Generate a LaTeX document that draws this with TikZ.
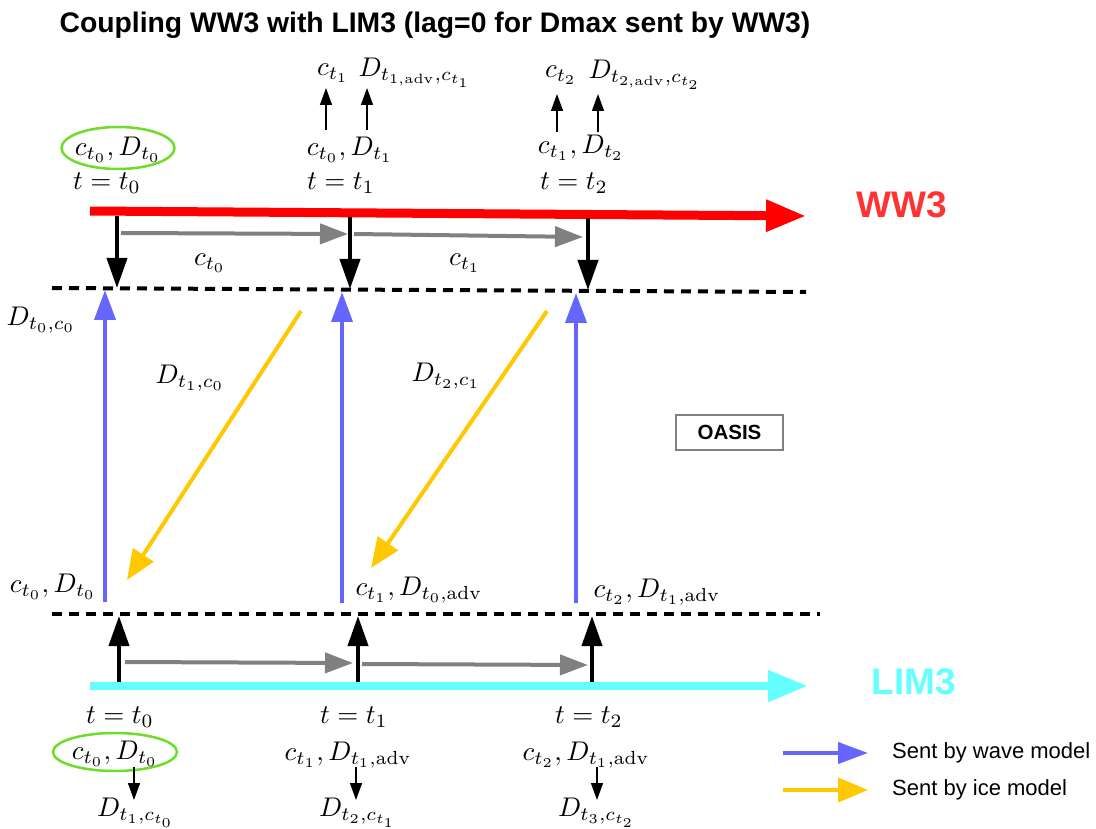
\documentclass[tikz,border=0pt]{standalone}
\usepackage{fontspec}
\newfontfamily\arial{Liberation Sans}
\usetikzlibrary{arrows.meta,shapes.geometric}
\definecolor{wwred}{RGB}{255,0,0}
\definecolor{wwtext}{RGB}{255,51,51}
\definecolor{limcyan}{RGB}{102,255,255}
\definecolor{wblue}{RGB}{102,102,255}
\definecolor{iyellow}{RGB}{255,200,0}
\definecolor{fgray}{RGB}{128,128,128}
\definecolor{egreen}{RGB}{110,220,40}
\tikzset{
  mtxt/.style={inner sep=0pt, scale=2.7},
  bigarrow/.style={line width=8pt, -{Triangle[length=40pt,width=30pt]}},
  blackarrow/.style={draw=black, line width=4pt, -{Triangle[length=30pt,width=20pt]}},
  grayarrow/.style={draw=fgray, line width=4pt, -{Triangle[length=28pt,width=20pt]}},
  bluearrow/.style={draw=wblue, line width=4pt, -{Triangle[length=30pt,width=21pt]}},
  yellowarrow/.style={draw=iyellow, line width=4pt, -{Triangle[length=30pt,width=24pt]}},
  smallarrow/.style={draw=black, line width=1.5pt, -{Triangle[length=17pt,width=12pt]}},
  dashline/.style={draw=black, line width=4pt, dash pattern=on 10pt off 7pt},
  greenell/.style={ellipse, draw=egreen, line width=2.5pt, inner sep=0pt},
}
\begin{document}
\begin{tikzpicture}[x=1pt,y=-1pt]
\useasboundingbox (0,0) rectangle (1096,829);
% title
\node[inner sep=0pt, font=\arial\fontsize{28.3}{32}\selectfont\bfseries] (title) at (435,25) {Coupling WW3 with LIM3 (lag=0 for Dmax sent by WW3)};
% main time lines
\coordinate (w0) at (90,211);
\coordinate (w1) at (806,216);
\draw[bigarrow, draw=wwred, line width=9pt] (w0) -- (w1);
\coordinate (l0) at (90,686);
\coordinate (l1) at (808,686);
\draw[bigarrow, draw=limcyan] (l0) -- (l1);
\node[inner sep=0pt, text=wwtext, font=\arial\fontsize{37}{40}\selectfont\bfseries] (ww3) at (902,205) {WW3};
\node[inner sep=0pt, text=limcyan, font=\arial\fontsize{37}{40}\selectfont\bfseries] (lim3) at (914,682) {LIM3};
% dashed lines
\coordinate (du0) at (52,288);
\coordinate (du1) at (806,292);
\draw[dashline] (du0) -- (du1);
\coordinate (dl0) at (52,614);
\coordinate (dl1) at (820,614);
\draw[dashline] (dl0) -- (dl1);
% top labels
\node[mtxt] (ct1top) at (333,73) {$c_{t_1}$};
\node[mtxt, anchor=west] (dt1top) at (358,73) {$D_{t_{1,\mathrm{adv}},c_{t_1}}$};
\node[mtxt] (ct2top) at (561,75) {$c_{t_2}$};
\node[mtxt, anchor=west] (dt2top) at (588,75) {$D_{t_{2,\mathrm{adv}},c_{t_2}}$};
\node[greenell, minimum width=113pt, minimum height=42pt] (ellA) at (118,148) {};
\node[mtxt] (cd0top) at (118,150) {$c_{t_0},D_{t_0}$};
\node[mtxt] (cd1top) at (350,150) {$c_{t_0},D_{t_1}$};
\node[mtxt] (cd2top) at (581,148) {$c_{t_1},D_{t_2}$};
\node[mtxt] (tt0) at (107,183) {$t=t_0$};
\node[mtxt] (tt1) at (341,183) {$t=t_1$};
\node[mtxt] (tt2) at (574,183) {$t=t_2$};
% small up arrows at top
\coordinate (s1a) at (326,130); \coordinate (s1b) at (326,88);
\coordinate (s2a) at (367,130); \coordinate (s2b) at (367,88);
\coordinate (s3a) at (557,132); \coordinate (s3b) at (557,94);
\coordinate (s4a) at (598,132); \coordinate (s4b) at (598,94);
\draw[smallarrow] (s1a) -- (s1b);
\draw[smallarrow] (s2a) -- (s2b);
\draw[smallarrow] (s3a) -- (s3b);
\draw[smallarrow] (s4a) -- (s4b);
% black down arrows from WW3
\coordinate (k1a) at (117,216); \coordinate (k1b) at (117,288);
\coordinate (k2a) at (350,217); \coordinate (k2b) at (350,289);
\coordinate (k3a) at (588,218); \coordinate (k3b) at (588,290);
\draw[blackarrow] (k1a) -- (k1b);
\draw[blackarrow] (k2a) -- (k2b);
\draw[blackarrow] (k3a) -- (k3b);
% gray arrows upper
\coordinate (g1a) at (121,233); \coordinate (g1b) at (348,234);
\coordinate (g2a) at (354,234); \coordinate (g2b) at (583,237);
\draw[grayarrow] (g1a) -- (g1b);
\draw[grayarrow] (g2a) -- (g2b);
\node[mtxt] (c0mid) at (210,263) {$c_{t_0}$};
\node[mtxt] (c1mid) at (465,263) {$c_{t_1}$};
\node[mtxt] (dt0c0) at (41,320) {$D_{t_0,c_0}$};
\node[mtxt] (dt1c0) at (190,378) {$D_{t_1,c_0}$};
\node[mtxt] (dt2c1) at (446,376) {$D_{t_2,c_1}$};
% blue arrows
\coordinate (b1a) at (105,602); \coordinate (b1b) at (105,290);
\coordinate (b2a) at (342,603); \coordinate (b2b) at (342,292);
\coordinate (b3a) at (576,603); \coordinate (b3b) at (576,293);
\draw[bluearrow] (b1a) -- (b1b);
\draw[bluearrow] (b2a) -- (b2b);
\draw[bluearrow] (b3a) -- (b3b);
% yellow arrows
\coordinate (y1a) at (301,311); \coordinate (y1b) at (127,580);
\coordinate (y2a) at (547,311); \coordinate (y2b) at (371,568);
\draw[yellowarrow] (y1a) -- (y1b);
\draw[yellowarrow] (y2a) -- (y2b);
% OASIS
\node[draw=fgray, line width=1.5pt, minimum width=107pt, minimum height=35pt, inner sep=0pt, font=\arial\fontsize{20.5}{24}\selectfont\bfseries] (oasis) at (729.5,432.5) {OASIS};
% lower labels above dashed
\node[mtxt] (cd0low) at (53,587) {$c_{t_0},D_{t_0}$};
\node[mtxt, anchor=west] (cd1low) at (355,590) {$c_{t_1},D_{t_0,\mathrm{adv}}$};
\node[mtxt, anchor=west] (cd2low) at (593,592) {$c_{t_2},D_{t_1,\mathrm{adv}}$};
% black up arrows from LIM3
\coordinate (u1a) at (119,682); \coordinate (u1b) at (119,616);
\coordinate (u2a) at (358,682); \coordinate (u2b) at (358,616);
\coordinate (u3a) at (592,682); \coordinate (u3b) at (592,616);
\draw[blackarrow] (u1a) -- (u1b);
\draw[blackarrow] (u2a) -- (u2b);
\draw[blackarrow] (u3a) -- (u3b);
% gray arrows lower
\coordinate (h1a) at (125,662); \coordinate (h1b) at (353,663);
\coordinate (h2a) at (362,664); \coordinate (h2b) at (588,665);
\draw[grayarrow] (h1a) -- (h1b);
\draw[grayarrow] (h2a) -- (h2b);
% bottom labels
\node[mtxt] (bt0) at (120,717) {$t=t_0$};
\node[mtxt] (bt1) at (354,717) {$t=t_1$};
\node[mtxt] (bt2) at (589,717) {$t=t_2$};
\node[greenell, minimum width=124pt, minimum height=38pt] (ellB) at (115,752) {};
\node[mtxt] (cd0bot) at (115,754) {$c_{t_0},D_{t_0}$};
\node[mtxt] (cd1bot) at (348,755) {$c_{t_1},D_{t_1,\mathrm{adv}}$};
\node[mtxt] (cd2bot) at (586,755) {$c_{t_2},D_{t_1,\mathrm{adv}}$};
\node[mtxt] (r1) at (136,813) {$D_{t_1,c_{t_0}}$};
\node[mtxt] (r2) at (358,813) {$D_{t_2,c_{t_1}}$};
\node[mtxt] (r3) at (597,813) {$D_{t_3,c_{t_2}}$};
\coordinate (v1a) at (134,767); \coordinate (v1b) at (134,800);
\coordinate (v2a) at (356,767); \coordinate (v2b) at (356,800);
\coordinate (v3a) at (597,767); \coordinate (v3b) at (597,800);
\draw[smallarrow] (v1a) -- (v1b);
\draw[smallarrow] (v2a) -- (v2b);
\draw[smallarrow] (v3a) -- (v3b);
% legend
\coordinate (lg1a) at (783,753); \coordinate (lg1b) at (868,753);
\coordinate (lg2a) at (783,790); \coordinate (lg2b) at (868,790);
\draw[bluearrow] (lg1a) -- (lg1b);
\draw[yellowarrow] (lg2a) -- (lg2b);
\node[inner sep=0pt, anchor=west, font=\arial\fontsize{22}{26}\selectfont] (lgt1) at (892,753) {Sent by wave model};
\node[inner sep=0pt, anchor=west, font=\arial\fontsize{22}{26}\selectfont] (lgt2) at (892,790) {Sent by ice model};
\end{tikzpicture}
\end{document}
